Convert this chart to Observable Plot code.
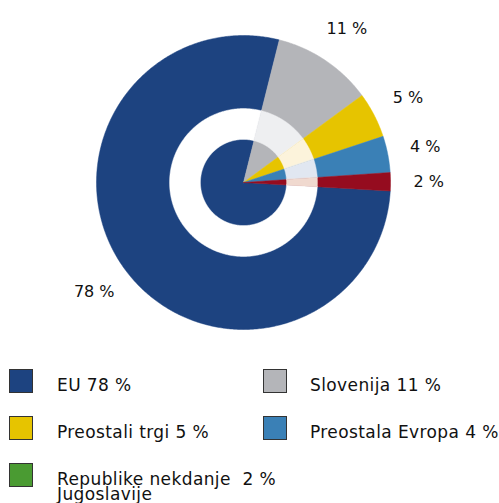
<!DOCTYPE html>
<html>
<head>
<meta charset="utf-8">
<script src="https://cdn.jsdelivr.net/npm/d3@7"></script>
<script src="https://cdn.jsdelivr.net/npm/@observablehq/plot@0.6"></script>
<style>
  html, body { margin: 0; padding: 0; background: #fff; }
  #wrap { position: relative; width: 499px; height: 503px; overflow: hidden; font-family: "DejaVu Sans", sans-serif; }
  #legend { position: absolute; left: 0; top: 360px; width: 499px; height: 143px; }
  .sw { position: absolute; width: 22px; height: 22px; border: 1px solid #333; }
  .lt { position: absolute; font-size: 17px; letter-spacing: 0.4px; line-height: 15px; color: #111; white-space: pre; }
</style>
</head>
<body>
<div id="wrap"><div id="chart"></div><div id="legend"></div></div>
<script>
// ---- data ----
const categories = ["EU", "Slovenija", "Preostali trgi", "Preostala Evropa", "Republike nekdanje Jugoslavije"];
const values = [78, 11, 5, 4, 2];
const sliceColors = ["#1d4380", "#b4b5b9", "#e6c400", "#3a80b6", "#950c1f"];
const ringTints = ["#ffffff", "#eeeff1", "#fcf3db", "#e1e7f1", "#f0d9cf"];
const legendColors = ["#1d4380", "#b4b5b9", "#e6c400", "#3a80b6", "#4a9b32"];
const sliceLabels = ["78 %", "11 %", "5 %", "4 %", "2 %"];
const legendLabels = ["EU 78 %", "Slovenija 11 %", "Preostali trgi 5 %", "Preostala Evropa 4 %", "Republike nekdanje  2 %\nJugoslavije"];

// ---- geometry helpers (computed from data) ----
const startDeg = 93.3;           // clockwise from north
const ringInner = 0.293, ringOuter = 0.503, labelR = 1.26;
const total = d3.sum(values);
let acc = startDeg;
const slices = values.map((v, i) => {
  const a0 = acc, a1 = acc + v / total * 360;
  acc = a1;
  return {i, name: categories[i], a0, a1, mid: (a0 + a1) / 2};
});
const rad = d => d * Math.PI / 180;
const pt = (r, deg) => ({x: r * Math.sin(rad(deg)), y: r * Math.cos(rad(deg))});
function arcPts(r, a0, a1) {
  const n = Math.max(2, Math.ceil((a1 - a0) / 0.5));
  return d3.range(n + 1).map(k => pt(r, a0 + (a1 - a0) * k / n));
}
const wedgePts = [];
slices.forEach(s => {
  [pt(0, s.a0), ...arcPts(1, s.a0, s.a1), pt(0, s.a1)].forEach(p => wedgePts.push({...p, key: s.name, fill: sliceColors[s.i]}));
});
const ringPts = [];
slices.forEach(s => {
  [...arcPts(ringOuter, s.a0, s.a1), ...arcPts(ringInner, s.a0, s.a1).reverse()].forEach(p => ringPts.push({...p, key: s.name, fill: ringTints[s.i]}));
});
const labelData = slices.map(s => ({...pt(labelR, s.mid), text: sliceLabels[s.i]}));

const R = 147, cx = 243, cy = 182;
const chart = Plot.plot({
  width: 499,
  height: 360,
  margin: 0,
  x: {domain: [-1, 1], range: [cx - R, cx + R], axis: null},
  y: {domain: [-1, 1], range: [cy + R, cy - R], axis: null},
  style: {fontFamily: "DejaVu Sans, sans-serif", background: "#fff"},
  marks: [
    Plot.line(wedgePts, {x: "x", y: "y", z: "key", fill: "fill", stroke: "fill", strokeWidth: 0.5, curve: "linear-closed"}),
    Plot.line(ringPts, {x: "x", y: "y", z: "key", fill: "fill", stroke: "fill", strokeWidth: 0.5, curve: "linear-closed"}),
    Plot.text(labelData, {x: "x", y: "y", text: "text", fontSize: 16, fill: "#111", textAnchor: "middle"})
  ]
});
document.getElementById("chart").appendChild(chart);

// ---- legend ----
const legend = document.getElementById("legend");
const cols = [[9, 57], [263, 310]];
legendLabels.forEach((lab, i) => {
  const row = Math.floor(i / 2), col = i % 2;
  const top = 9 + row * 47;
  const sw = document.createElement("div");
  sw.className = "sw";
  sw.style.left = cols[col][0] + "px";
  sw.style.top = top + "px";
  sw.style.background = legendColors[i];
  legend.appendChild(sw);
  const t = document.createElement("div");
  t.className = "lt";
  t.style.left = cols[col][1] + "px";
  t.style.top = (top + 9) + "px";
  t.textContent = lab;
  legend.appendChild(t);
});
</script>
</body>
</html>
